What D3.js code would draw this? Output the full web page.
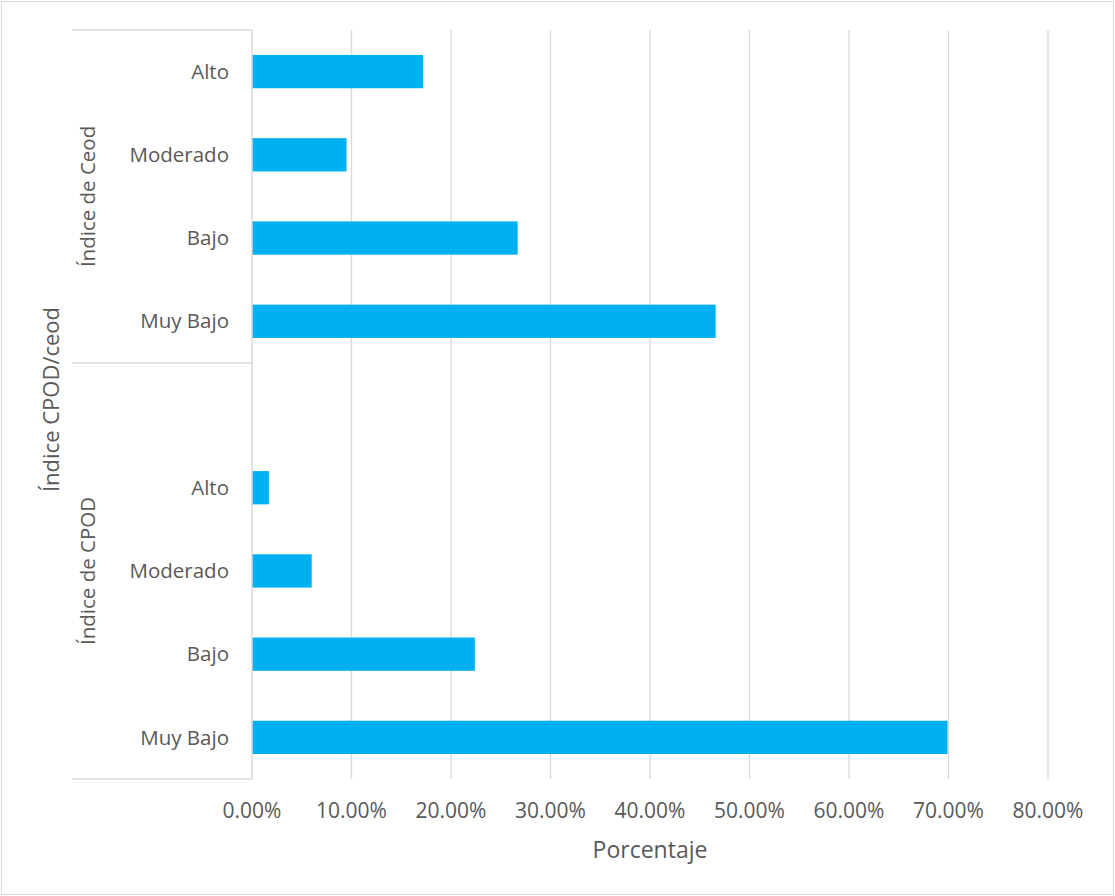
<!DOCTYPE html>
<html>
<head>
<meta charset="utf-8">
<script src="https://cdn.jsdelivr.net/npm/d3@7"></script>
<style>
  body { margin: 0; background: #fff; }
  svg { font-family: "Open Sans", sans-serif; }
</style>
</head>
<body>
<svg id="chart"></svg>
<script>
// values, top to bottom
let groups = ["Índice de Ceod", "Índice de CPOD"];
let levels = ["Alto", "Moderado", "Bajo", "Muy Bajo"];
let ceodValues = [0.172, 0.095, 0.267, 0.466];
let cpodValues = [0.017, 0.060, 0.224, 0.699];
let xTicks = [0, 0.1, 0.2, 0.3, 0.4, 0.5, 0.6, 0.7, 0.8];

let w = 1115;
let h = 896;
let svg = d3.select('#chart').attr('width', w).attr('height', h);

// excel leaves an empty slot between the two groups
let rows = [];
levels.forEach((l, i) => rows.push({ key: 'ceod' + i, group: 0, label: l, value: ceodValues[i] }));
rows.push({ key: 'blank', group: 1, label: '', value: null });
levels.forEach((l, i) => rows.push({ key: 'cpod' + i, group: 1, label: l, value: cpodValues[i] }));

let plotLeft = 252, plotRight = 1048, plotTop = 30, plotBottom = 779;

let x = d3.scaleLinear().domain([0, 0.8]).range([plotLeft, plotRight]);
let y = d3.scaleBand().domain(rows.map(r => r.key)).range([plotTop, plotBottom]).padding(0);

// outer border
svg.append('rect')
  .attr('x', 1.5).attr('y', 1.5)
  .attr('width', w - 3).attr('height', h - 3)
  .attr('fill', 'none').attr('stroke', '#d9d9d9');

// gridlines
svg.selectAll('.grid')
  .data(xTicks.slice(1))
  .enter()
  .append('line')
  .attr('class', 'grid')
  .attr('x1', d => x(d)).attr('x2', d => x(d))
  .attr('y1', plotTop).attr('y2', plotBottom)
  .attr('stroke', '#d9d9d9').attr('stroke-width', 1.3);

// bars
let barH = y.bandwidth() * 0.4;
svg.selectAll('.bar')
  .data(rows.filter(r => r.value !== null))
  .enter()
  .append('rect')
  .attr('class', 'bar')
  .attr('x', x(0))
  .attr('y', d => y(d.key) + (y.bandwidth() - barH) / 2)
  .attr('width', d => x(d.value) - x(0))
  .attr('height', barH)
  .attr('fill', '#00b0f0');

// category axis line + group frame
let axisColor = '#d9d9d9';
svg.append('line')
  .attr('x1', x(0)).attr('x2', x(0))
  .attr('y1', plotTop).attr('y2', plotBottom)
  .attr('stroke', axisColor).attr('stroke-width', 1.5);
let groupEdge = y('blank');
[plotTop, groupEdge, plotBottom].forEach(yy => {
  svg.append('line')
    .attr('x1', 72).attr('x2', x(0))
    .attr('y1', yy).attr('y2', yy)
    .attr('stroke', axisColor).attr('stroke-width', 1.5);
});

// category labels
svg.selectAll('.cat')
  .data(rows.filter(r => r.label))
  .enter()
  .append('text')
  .attr('class', 'cat')
  .attr('x', 229)
  .attr('y', d => y(d.key) + y.bandwidth() / 2)
  .attr('dy', '0.35em')
  .attr('text-anchor', 'end')
  .attr('font-size', 20.5)
  .attr('fill', '#595959')
  .text(d => d.label);

// group labels
let groupMid = [(plotTop + groupEdge) / 2, (groupEdge + plotBottom) / 2];
svg.selectAll('.grp')
  .data(groups)
  .enter()
  .append('text')
  .attr('class', 'grp')
  .attr('transform', (d, i) => 'translate(88,' + groupMid[i] + ') rotate(-90)')
  .attr('dy', '0.35em')
  .attr('text-anchor', 'middle')
  .attr('font-size', 20.5)
  .attr('fill', '#595959')
  .text(d => d);

// x axis tick labels
let fmt = d3.format('.2%');
svg.selectAll('.tick')
  .data(xTicks)
  .enter()
  .append('text')
  .attr('class', 'tick')
  .attr('x', d => x(d))
  .attr('y', 811)
  .attr('dy', '0.35em')
  .attr('text-anchor', 'middle')
  .attr('font-size', 21)
  .attr('fill', '#595959')
  .text(d => fmt(d));

// axis titles
svg.append('text')
  .attr('x', x(0.4))
  .attr('y', 850)
  .attr('dy', '0.35em')
  .attr('text-anchor', 'middle')
  .attr('font-size', 23)
  .attr('fill', '#595959')
  .text('Porcentaje');

svg.append('text')
  .attr('transform', 'translate(51,' + ((plotTop + plotBottom) / 2 - 5) + ') rotate(-90)')
  .attr('dy', '0.35em')
  .attr('text-anchor', 'middle')
  .attr('font-size', 22)
  .attr('fill', '#595959')
  .text('Índice CPOD/ceod');
</script>
</body>
</html>
